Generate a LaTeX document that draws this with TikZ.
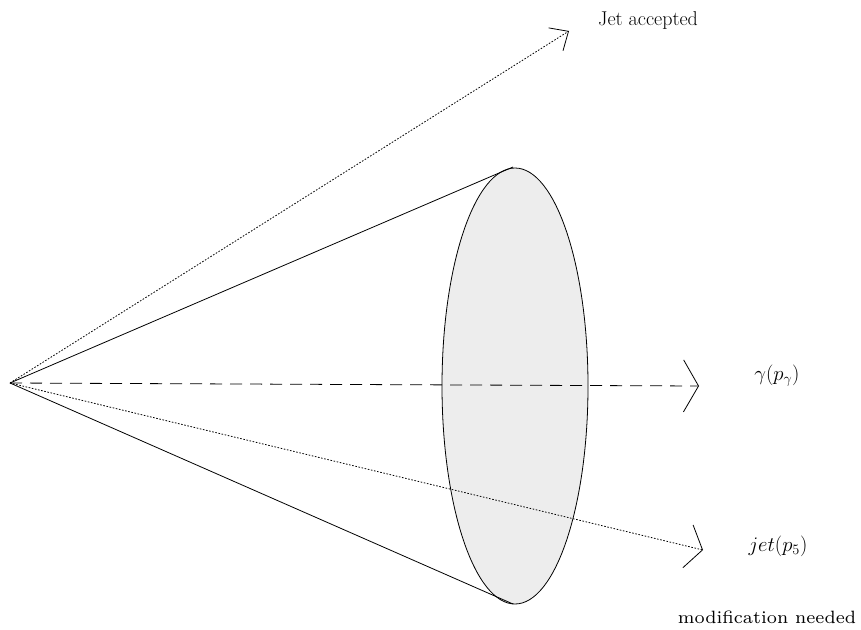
\documentclass[tikz,border=0pt]{standalone}
\usetikzlibrary{arrows.meta}
\begin{document}
\begin{tikzpicture}[x=1pt,y=-1pt,
  thinline/.style={line width=0.8pt},
  dotline/.style={thinline, dash pattern=on 1.6pt off 1.6pt},
  dashline/.style={thinline, dash pattern=on 12pt off 8pt},
  lbl/.style={inner sep=0pt, font=\fontsize{20}{24}\selectfont}]
\useasboundingbox (0,0) rectangle (861,629);
\coordinate (O) at (10,383);
\coordinate (C) at (515,386);
\coordinate (Etop) at (513,167);
\coordinate (Ebot) at (513,604);
\coordinate (A1) at (569,31);
\coordinate (A2) at (699,386);
\coordinate (A3) at (703,550);
\draw[thinline, fill=black!7] (C) ellipse [x radius=73, y radius=218];
\draw[thinline] (O) -- (Etop);
\draw[thinline] (O) -- (Ebot);
\draw[dotline, -{Straight Barb[length=15pt,width=27pt,line width=0.8pt]}] (O) -- (A1);
\draw[dashline, -{Straight Barb[length=15pt,width=52pt,line width=0.8pt]}] (O) -- (A2);
\draw[dotline, -{Straight Barb[length=15pt,width=44pt,line width=0.8pt]}] (O) -- (A3);
\node[lbl] (t1) at (648,21) {Jet accepted};
\node[lbl] (t2) at (777,376) {$\gamma(p_\gamma)$};
\node[lbl] (t3) at (778,546) {$jet(p_5)$};
\node[inner sep=0pt, anchor=base] (t4) at (767,623) {\scalebox{2.55}{\fontsize{7}{8}\selectfont modification needed}};
\end{tikzpicture}
\end{document}
